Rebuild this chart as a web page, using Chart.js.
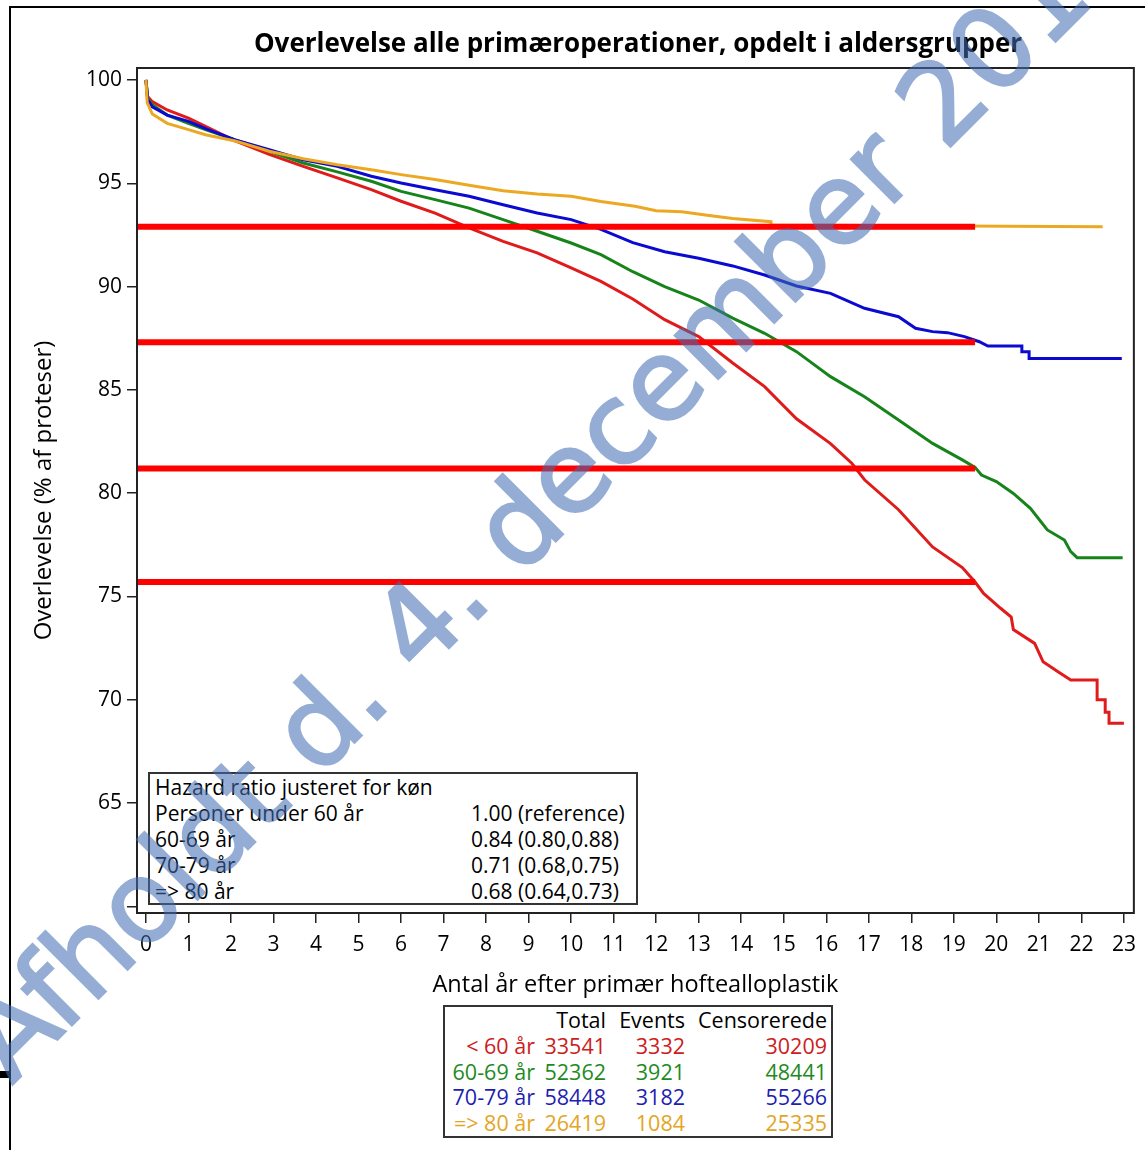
<!DOCTYPE html>
<html>
<head>
<meta charset="utf-8">
<script src="https://cdn.jsdelivr.net/npm/chart.js@4.4.1/dist/chart.umd.min.js"></script>
<style>
  html, body { margin: 0; padding: 0; background: #fff; }
  #wrap { position: relative; width: 1145px; height: 1150px; overflow: hidden; font-family: 'Open Sans', sans-serif; color: #000; }
  #c { position: absolute; left: 0; top: 0; }
  #outer { position: absolute; left: 9px; top: 6px; width: 1150px; height: 1150px; border-left: 2px solid #000; border-top: 2px solid #000; }
  #mark { position: absolute; left: 0; top: 1071px; width: 9px; height: 7px; background: #000; }
  #title { position: absolute; left: 0; width: 1276px; top: 26px; text-align: center; font-weight: bold; font-size: 26px; line-height: 32px; white-space: nowrap; }
  .box { position: absolute; background: #fff; border: 2px solid #333; box-sizing: border-box; }
  .row { position: absolute; left: 0; right: 0; height: 26px; line-height: 26px; white-space: nowrap; }
  .row span { position: absolute; top: 0; }
  #wm { position: absolute; left: 0; top: 0; pointer-events: none; }
</style>
</head>
<body>
<div id="wrap">
  <div id="outer"></div>
  <div id="mark"></div>
  <canvas id="c" width="1145" height="1150"></canvas>
  <div id="title">Overlevelse alle primæroperationer, opdelt i aldersgrupper</div>
  <div id="hr" class="box" style="left:148px; top:772px; width:490px; height:133px; font-size:21px;"></div>
  <div id="counts" class="box" style="left:443px; top:1005px; width:390px; height:133px; font-size:21.5px;"></div>
  <svg id="wm" width="1145" height="1150">
    <g opacity="0.56">
      <text x="12" y="1085" transform="rotate(-45 12 1085)" font-family="DejaVu Sans" font-size="112" fill="rgb(66,110,178)" stroke="rgb(66,110,178)" stroke-width="2.5" stroke-linejoin="miter">Afholdt d. 4. december 2019</text>
    </g>
  </svg>
</div>
<script>
// Kaplan-Meier curves (years, survival %)
const tRed = [0, 0.04, 0.15, 0.5, 1.0, 1.4, 2.1, 2.9, 3.7, 4.5, 5.3, 6.0, 6.8, 7.6, 8.4, 9.2, 10.0, 10.7, 11.45, 12.2, 13.0, 13.8, 14.55, 15.3, 16.1, 16.6, 16.9, 17.7, 18.5, 19.2, 19.5, 19.7, 20.1, 20.35, 20.4, 20.9, 21.1, 21.45, 21.75, 22.37, 22.37, 22.56, 22.56, 22.65, 22.65, 23.0]
const sRed = [100, 99.2, 98.95, 98.55, 98.15, 97.75, 97.05, 96.4, 95.82, 95.26, 94.69, 94.13, 93.56, 92.84, 92.19, 91.63, 90.9, 90.25, 89.4, 88.4, 87.58, 86.3, 85.16, 83.6, 82.4, 81.45, 80.65, 79.2, 77.4, 76.4, 75.7, 75.15, 74.43, 74.0, 73.4, 72.73, 71.84, 71.36, 70.96, 70.96, 70.0, 70.0, 69.4, 69.4, 68.86, 68.86]

const tGreen = [0, 0.04, 0.15, 0.5, 1.0, 1.4, 2.1, 2.9, 3.7, 4.5, 5.3, 6.0, 6.8, 7.6, 8.4, 9.2, 10.0, 10.7, 11.45, 12.2, 13.0, 13.8, 14.55, 15.3, 16.1, 16.9, 17.7, 18.5, 19.2, 19.5, 19.65, 20.0, 20.4, 20.8, 21.2, 21.6, 21.75, 21.9, 22.97]
const sGreen = [100, 99.1, 98.8, 98.3, 97.9, 97.6, 97.1, 96.55, 95.98, 95.55, 95.1, 94.61, 94.21, 93.8, 93.24, 92.68, 92.11, 91.55, 90.72, 90.0, 89.35, 88.47, 87.74, 86.85, 85.64, 84.67, 83.54, 82.41, 81.61, 81.25, 80.88, 80.56, 79.99, 79.27, 78.22, 77.73, 77.17, 76.88, 76.88]

const tBlue = [0, 0.04, 0.15, 0.5, 1.0, 1.4, 2.1, 2.9, 3.7, 4.5, 5.3, 6.0, 6.8, 7.6, 8.4, 9.2, 10.0, 10.7, 11.45, 12.2, 13.0, 13.8, 14.55, 15.3, 16.1, 16.9, 17.7, 18.1, 18.5, 18.85, 19.25, 19.6, 19.8, 20.6, 20.6, 20.77, 20.77, 22.95]
const sBlue = [100, 99.05, 98.7, 98.3, 98.0, 97.65, 97.1, 96.63, 96.14, 95.82, 95.34, 95.01, 94.69, 94.37, 93.96, 93.56, 93.24, 92.77, 92.13, 91.69, 91.37, 91.0, 90.56, 90.03, 89.67, 88.95, 88.54, 87.98, 87.82, 87.77, 87.58, 87.33, 87.12, 87.12, 86.85, 86.85, 86.52, 86.52]

const tYellow = [0, 0.03, 0.15, 0.5, 1.0, 1.4, 2.1, 2.9, 3.7, 4.5, 5.3, 6.0, 6.8, 7.6, 8.4, 9.2, 10.0, 10.7, 11.5, 12.0, 12.6, 13.2, 13.8, 14.7, 14.7, 22.5]
const sYellow = [100, 98.9, 98.35, 97.9, 97.6, 97.35, 97.05, 96.55, 96.19, 95.9, 95.66, 95.42, 95.18, 94.9, 94.64, 94.48, 94.37, 94.12, 93.89, 93.67, 93.62, 93.45, 93.3, 93.14, 92.98, 92.9]

// red marker lines at 19.5 years
const refLevels = [92.9, 87.3, 81.2, 75.7]
const refEnd = 19.5

const xTicks = [0, 1, 2, 3, 4, 5, 6, 7, 8, 9, 10, 11, 12, 13, 14, 15, 16, 17, 18, 19, 20, 21, 22, 23]
const yTicks = [60, 65, 70, 75, 80, 85, 90, 95, 100]
const xMin = -0.21, xMax = 23.234, yMin = 59.68, yMax = 100.58

// hazard ratio box
const hrHeader = 'Hazard ratio justeret for køn'
const hrLabels = ['Personer under 60 år', '60-69 år', '70-79 år', '=> 80 år']
const hrValues = ['1.00 (reference)', '0.84 (0.80,0.88)', '0.71 (0.68,0.75)', '0.68 (0.64,0.73)']

// numbers table
const groupLabels = ['< 60 år', '60-69 år', '70-79 år', '=> 80 år']
const totals = [33541, 52362, 58448, 26419]
const events = [3332, 3921, 3182, 1084]
const censored = [30209, 48441, 55266, 25335]

const lineColors = ['#e01b1b', '#16841a', '#0a0ad0', '#eca822']
const textColors = ['#cc2020', '#1e8a1e', '#1e1eb0', '#e3a525']

const pts = (ts, ss) => ts.map((t, i) => ({ x: t, y: ss[i] }))

const datasets = []
refLevels.forEach((lvl) => {
  datasets.push({ data: [{ x: xMin, y: lvl }, { x: refEnd, y: lvl }], borderColor: '#ff0000', borderWidth: 6, borderCapStyle: 'butt' })
})
const curves = [[tYellow, sYellow, 3], [tBlue, sBlue, 2], [tGreen, sGreen, 1], [tRed, sRed, 0]]
curves.forEach(([ts, ss, c]) => {
  datasets.push({ data: pts(ts, ss), borderColor: lineColors[c], borderWidth: 3, borderJoinStyle: 'miter' })
})

const framePlugin = {
  id: 'frame',
  afterDraw(chart) {
    const { ctx, chartArea: a } = chart
    ctx.save()
    ctx.strokeStyle = '#222'
    ctx.lineWidth = 2
    ctx.strokeRect(a.left, a.top, a.right - a.left, a.bottom - a.top)
    ctx.restore()
  },
}

Chart.defaults.font.family = "'Open Sans', sans-serif"
Chart.defaults.color = '#000'

const tickGrid = { drawOnChartArea: false, drawTicks: true, tickLength: 10, color: '#222', lineWidth: 1.5 }

new Chart(document.getElementById('c').getContext('2d'), {
  type: 'line',
  data: { datasets },
  options: {
    responsive: false,
    animation: false,
    elements: { point: { radius: 0 }, line: { tension: 0, fill: false } },
    layout: { padding: { left: 0, right: 8, top: 68, bottom: 137 } },
    plugins: { legend: { display: false }, tooltip: { enabled: false }, title: { display: false } },
    scales: {
      x: {
        type: 'linear',
        min: xMin,
        max: xMax,
        afterBuildTicks: (s) => { s.ticks = xTicks.map((v) => ({ value: v })) },
        afterFit: (s) => { s.height = 100 },
        grid: tickGrid,
        border: { display: false },
        ticks: { font: { size: 21 }, padding: 9, maxRotation: 0, autoSkip: false },
        title: { display: true, text: 'Antal år efter primær hoftealloplastik', font: { size: 23.5 }, padding: { bottom: 14 } },
      },
      y: {
        type: 'linear',
        min: yMin,
        max: yMax,
        afterBuildTicks: (s) => { s.ticks = yTicks.map((v) => ({ value: v })) },
        afterFit: (s) => { s.width = 137 },
        grid: tickGrid,
        border: { display: false },
        ticks: { font: { size: 21 }, padding: 5, callback: (v) => (v === 60 ? '' : v) },
        title: { display: true, text: 'Overlevelse (% af proteser)', font: { size: 24 }, padding: { top: 30 } },
      },
    },
  },
  plugins: [framePlugin],
})

// hazard ratio box
const hr = document.getElementById('hr')
const addRow = (box, top, cells) => {
  const row = document.createElement('div')
  row.className = 'row'
  row.style.top = top + 'px'
  cells.forEach(([text, style, color]) => {
    const s = document.createElement('span')
    s.textContent = text
    s.setAttribute('style', style)
    if (color) s.style.color = color
    row.appendChild(s)
  })
  box.appendChild(row)
}
addRow(hr, 0, [[hrHeader, 'left:5px']])
hrLabels.forEach((lab, i) => {
  addRow(hr, 26 * (i + 1), [[lab, 'left:5px'], [hrValues[i], 'left:321px']])
})

// counts table
const counts = document.getElementById('counts')
addRow(counts, 0, [['Total', 'right:225px'], ['Events', 'right:146px'], ['Censorerede', 'right:4px']])
groupLabels.forEach((lab, i) => {
  const col = textColors[i]
  addRow(counts, 25.75 * (i + 1), [
    [lab, 'right:296px', col],
    [String(totals[i]), 'right:225px', col],
    [String(events[i]), 'right:146px', col],
    [String(censored[i]), 'right:4px', col],
  ])
})
</script>
</body>
</html>
